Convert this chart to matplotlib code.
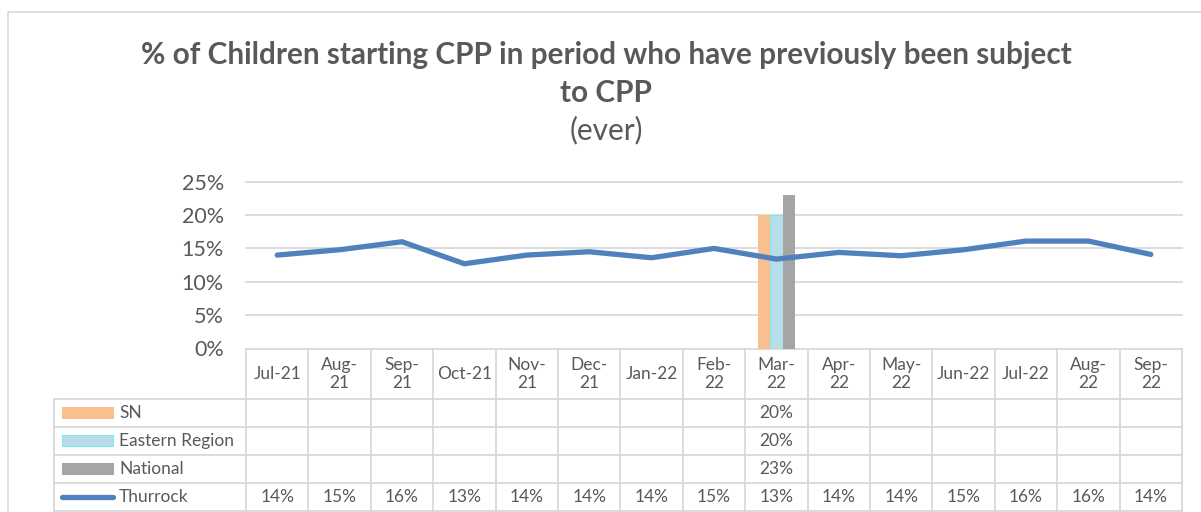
import matplotlib
matplotlib.use('Agg')
import matplotlib.pyplot as plt
import matplotlib.transforms as mtransforms
from matplotlib.patches import Rectangle
from matplotlib.lines import Line2D
import numpy as np

# data
months = ['Jul-21', 'Aug-\n21', 'Sep-\n21', 'Oct-21', 'Nov-\n21', 'Dec-\n21', 'Jan-22', 'Feb-\n22',
          'Mar-\n22', 'Apr-\n22', 'May-\n22', 'Jun-22', 'Jul-22', 'Aug-\n22', 'Sep-\n22']
nan = np.nan
sn = [nan, nan, nan, nan, nan, nan, nan, nan, 20, nan, nan, nan, nan, nan, nan]
eastern = [nan, nan, nan, nan, nan, nan, nan, nan, 20, nan, nan, nan, nan, nan, nan]
national = [nan, nan, nan, nan, nan, nan, nan, nan, 23, nan, nan, nan, nan, nan, nan]
thurrock = [14.0, 14.8, 16.0, 12.7, 14.0, 14.5, 13.6, 15.0, 13.4, 14.4, 13.9, 14.8, 16.1, 16.1, 14.1]
yticks = [0, 5, 10, 15, 20, 25]

series_names = ['SN', 'Eastern Region', 'National', 'Thurrock']
colors = ['#F9BF8F', '#B7DEE8', '#A5A5A5', '#4F81BD']
grey_txt = '#595959'
grid_c = '#D9D9D9'

plt.rcParams['font.family'] = ['Lato', 'DejaVu Sans']

W, H = 1201, 512
fig = plt.figure(figsize=(W / 100, H / 100), dpi=100)


def fx(px):
    return px / W


def fy(py):
    return 1 - py / H


# outer chart border
fig.add_artist(Rectangle((fx(8), fy(520)), fx(1300), (520 - 12) / H, transform=fig.transFigure,
                         fill=False, ec=grid_c, lw=1.2))

# titles
fig.text(fx(606), fy(55), '% of Children starting CPP in period who have previously been subject',
         ha='center', va='center', fontsize=21.4, fontweight='bold', color=grey_txt)
fig.text(fx(606), fy(93), 'to CPP', ha='center', va='center', fontsize=21.4,
         fontweight='bold', color=grey_txt)
fig.text(fx(606), fy(130), '(ever)', ha='center', va='center', fontsize=21.4, color=grey_txt)

ax_top, ax_bot, ax_left, ax_right = 181.7, 348.5, 246, 1182
ax = fig.add_axes([fx(ax_left), fy(ax_bot), fx(ax_right - ax_left), (ax_bot - ax_top) / H])
x = np.arange(len(months))
ax.set_xlim(-0.5, len(months) - 0.5)
ax.set_ylim(0, 25)
for s in ax.spines.values():
    s.set_visible(False)

for t in yticks:
    ax.axhline(t, color=grid_c, lw=1.3, zorder=0, clip_on=False)

bw = 0.2
ax.bar(x - bw, sn, width=bw, color=colors[0], zorder=2)
ax.bar(x, eastern, width=bw, color=colors[1], edgecolor='#7FE8F2', lw=0.8, zorder=2)
ax.bar(x + bw, national, width=bw, color=colors[2], zorder=2)
ax.plot(x, thurrock, color=colors[3], lw=3.8, solid_capstyle='round', solid_joinstyle='round', zorder=3)

ax.set_yticks(yticks)
ax.set_yticklabels([f'{t}%' for t in yticks])
ax.tick_params(axis='y', length=0, pad=16, labelsize=15.5, labelcolor=grey_txt)
ax.set_xticks([])

# data table under the axis
trans = mtransforms.blended_transform_factory(ax.transData, fig.transFigure)
row_edges = [348.5, 398.7, 426.7, 454.8, 482.7, 510.7]
tsize = 12.5
tcol = grey_txt

for i, lab in enumerate(months):
    ax.text(i, fy((row_edges[0] + row_edges[1]) / 2), lab, transform=trans, ha='center', va='center',
            fontsize=tsize, color=tcol, linespacing=1.15, clip_on=False)

values = [sn, eastern, national, thurrock]
for r, vals in enumerate(values):
    yc = fy((row_edges[r + 1] + row_edges[r + 2]) / 2)
    for i, v in enumerate(vals):
        if not np.isnan(v):
            ax.text(i, yc, f'{v:.0f}%', transform=trans, ha='center', va='center',
                    fontsize=tsize, color=tcol, clip_on=False)

# table grid lines
for i in range(len(months) + 1):
    ax.add_line(Line2D([i - 0.5, i - 0.5], [fy(row_edges[0]), fy(row_edges[-1])], transform=trans,
                       color=grid_c, lw=1.3, clip_on=False))
for k, ry in enumerate(row_edges[1:]):
    fig.add_artist(Line2D([fx(54), fx(ax_right)], [fy(ry), fy(ry)], transform=fig.transFigure,
                          color=grid_c, lw=1.3))
fig.add_artist(Line2D([fx(54), fx(54)], [fy(row_edges[1]), fy(row_edges[-1])], transform=fig.transFigure,
                      color=grid_c, lw=1.3))

# legend keys inside the table
for r, name in enumerate(series_names):
    yc = (row_edges[r + 1] + row_edges[r + 2]) / 2
    if r < 3:
        ec = '#7FE8F2' if r == 1 else colors[r]
        fig.add_artist(Rectangle((fx(62), fy(yc + 5.5)), fx(51), 11 / H, transform=fig.transFigure,
                                 fc=colors[r], ec=ec, lw=0.8))
    else:
        fig.add_artist(Line2D([fx(62), fx(113)], [fy(yc), fy(yc)], transform=fig.transFigure,
                              color=colors[3], lw=3.8, solid_capstyle='round'))
    fig.text(fx(119), fy(yc), name, ha='left', va='center', fontsize=tsize, color=tcol)

fig.savefig('out.png', dpi=100)
